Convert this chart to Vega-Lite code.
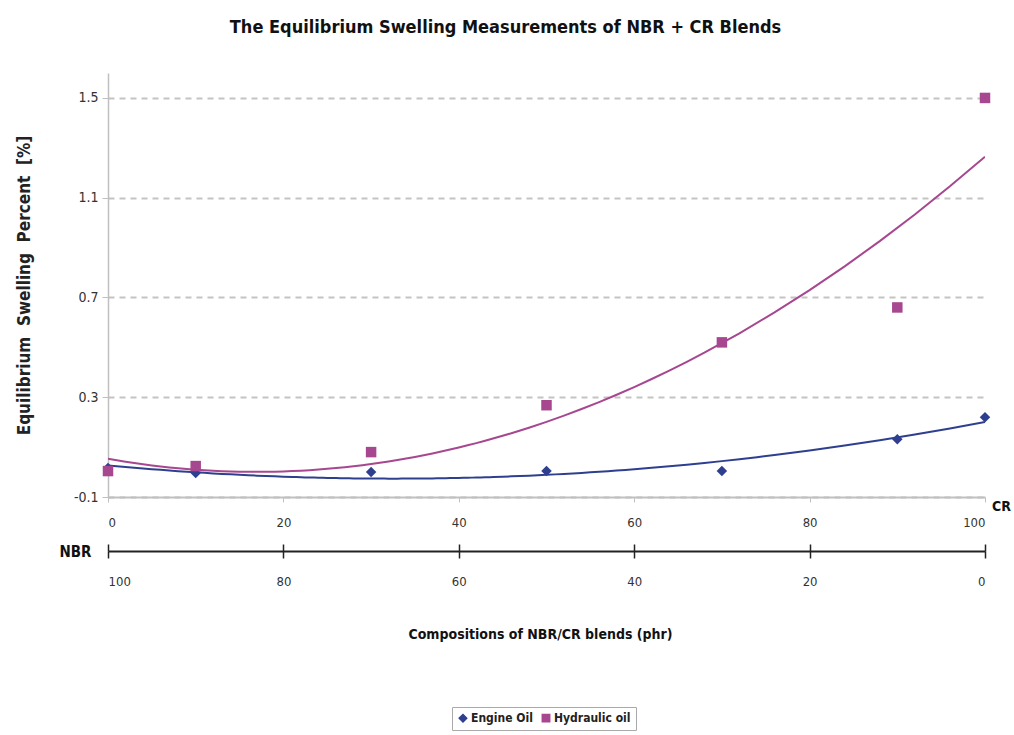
{
  "$schema": "https://vega.github.io/schema/vega-lite/v6.json",
  "width": 877,
  "height": 424,
  "autosize": "none",
  "padding": {"left": 108, "top": 73, "right": 29, "bottom": 238},
  "background": "white",
  "config": {
    "view": {"stroke": null},
    "font": "DejaVu Sans Condensed, Liberation Sans, sans-serif"
  },
  "title": {
    "text": "The Equilibrium Swelling Measurements of NBR + CR Blends",
    "font": "DejaVu Sans Condensed, Liberation Sans, sans-serif",
    "fontSize": 18,
    "fontWeight": "bold",
    "color": "#111111",
    "anchor": "middle",
    "dx": -41,
    "offset": 36
  },
  "datasets": {
    "pts": [
      {"CR": 0, "NBR": 100, "series": "Engine Oil", "value": 0.016},
      {"CR": 10, "NBR": 90, "series": "Engine Oil", "value": -0.004},
      {"CR": 30, "NBR": 70, "series": "Engine Oil", "value": 0.0},
      {"CR": 50, "NBR": 50, "series": "Engine Oil", "value": 0.004},
      {"CR": 70, "NBR": 30, "series": "Engine Oil", "value": 0.004},
      {"CR": 90, "NBR": 10, "series": "Engine Oil", "value": 0.132},
      {"CR": 100, "NBR": 0, "series": "Engine Oil", "value": 0.22},
      {"CR": 0, "NBR": 100, "series": "Hydraulic oil", "value": 0.004},
      {"CR": 10, "NBR": 90, "series": "Hydraulic oil", "value": 0.024},
      {"CR": 30, "NBR": 70, "series": "Hydraulic oil", "value": 0.08},
      {"CR": 50, "NBR": 50, "series": "Hydraulic oil", "value": 0.268},
      {"CR": 70, "NBR": 30, "series": "Hydraulic oil", "value": 0.52},
      {"CR": 90, "NBR": 10, "series": "Hydraulic oil", "value": 0.66},
      {"CR": 100, "NBR": 0, "series": "Hydraulic oil", "value": 1.5}
    ]
  },
  "data": {"name": "pts"},
  "layer": [
    {
      "transform": [
        {"regression": "value", "on": "CR", "groupby": ["series"], "method": "poly", "order": 2, "extent": [0, 100]}
      ],
      "mark": {"type": "line", "strokeWidth": 2, "clip": true},
      "encoding": {
        "x": {"field": "CR", "type": "quantitative", "scale": {"domain": [0, 100]}, "axis": null},
        "y": {"field": "value", "type": "quantitative", "scale": {"domain": [-0.1, 1.6], "nice": false, "zero": false}},
        "color": {"field": "series", "type": "nominal"}
      }
    },
    {
      "mark": {"type": "point", "filled": true, "opacity": 1, "size": 110},
      "encoding": {
        "x": {
          "field": "CR", "type": "quantitative",
          "scale": {"domain": [0, 100], "nice": false},
          "axis": {
            "orient": "bottom",
            "values": [0, 20, 40, 60, 80, 100],
            "domainColor": "#c0c0c0",
            "domainWidth": 2,
            "tickColor": "#c0c0c0",
            "tickSize": 5,
            "labelPadding": 14,
            "labelFontSize": 13,
            "labelColor": "#333333",
            "grid": false,
            "title": "CR",
            "titleFontSize": 14,
            "titleFontWeight": "bold",
            "titleColor": "#111111",
            "titleAngle": 0,
            "titleX": 893,
            "titleY": 9,
            "titleAlign": "center",
            "titleBaseline": "middle"
          }
        },
        "y": {
          "field": "value", "type": "quantitative",
          "scale": {"domain": [-0.1, 1.6], "nice": false, "zero": false},
          "axis": {
            "values": [-0.1, 0.3, 0.7, 1.1, 1.5],
            "format": ".1f",
            "labelExpr": "replace(datum.label, '\u2212', '-')",
            "domainColor": "#c0c0c0",
            "domainWidth": 1.5,
            "tickColor": "#c0c0c0",
            "tickSize": 6,
            "labelFontSize": 14,
            "labelColor": "#333333",
            "labelPadding": 4,
            "grid": true,
            "gridDash": [6, 5],
            "gridColor": "#c4c4c4",
            "gridWidth": 2,
            "title": "Equilibrium\u00a0\u00a0Swelling\u00a0\u00a0Percent\u00a0\u00a0[%]",
            "titleFontSize": 17,
            "titleFontWeight": "bold",
            "titleColor": "#222222",
            "titlePadding": 40
          }
        },
        "color": {
          "field": "series", "type": "nominal",
          "scale": {"domain": ["Engine Oil", "Hydraulic oil"], "range": ["#2f3f8f", "#a6478f"]},
          "legend": {
            "title": null,
            "orient": "none",
            "legendX": 344,
            "legendY": 634,
            "direction": "horizontal",
            "strokeColor": "#aaaaaa",
            "padding": 5,
            "labelFontSize": 12,
            "labelFontWeight": "bold",
            "labelColor": "#222222",
            "symbolSize": 55,
            "columnPadding": 6,
            "labelOffset": 2
          }
        },
        "shape": {
          "field": "series", "type": "nominal",
          "scale": {"domain": ["Engine Oil", "Hydraulic oil"], "range": ["diamond", "square"]},
          "legend": {"title": null}
        }
      }
    },
    {
      "mark": {"type": "point", "opacity": 0},
      "encoding": {
        "x": {
          "field": "NBR", "type": "quantitative",
          "scale": {"domain": [100, 0], "nice": false},
          "axis": {
            "orient": "bottom",
            "offset": 54,
            "values": [100, 80, 60, 40, 20, 0],
            "domainColor": "#222222",
            "domainWidth": 2,
            "tickColor": "#222222",
            "tickWidth": 1.5,
            "tickSize": 7,
            "labelPadding": 17,
            "labelFontSize": 13,
            "labelColor": "#333333",
            "title": "NBR",
            "titleFontSize": 15,
            "titleFontWeight": "bold",
            "titleColor": "#111111",
            "titleAngle": 0,
            "titleX": -33,
            "titleY": 0,
            "titleAlign": "center",
            "titleBaseline": "middle"
          }
        }
      }
    },
    {
      "mark": {"type": "point", "opacity": 0},
      "encoding": {
        "x": {
          "field": "NBR", "type": "quantitative",
          "scale": {"domain": [100, 0], "nice": false},
          "axis": {
            "orient": "bottom",
            "offset": 54,
            "values": [100, 80, 60, 40, 20, 0],
            "domain": false,
            "labels": false,
            "tickColor": "#222222",
            "tickWidth": 1.5,
            "tickSize": -7,
            "title": null
          }
        }
      }
    },
    {
      "mark": {"type": "point", "opacity": 0},
      "encoding": {
        "x": {
          "field": "CR", "type": "quantitative",
          "scale": {"domain": [0, 100], "nice": false},
          "axis": {
            "orient": "bottom",
            "offset": 0,
            "domain": false,
            "labels": false,
            "ticks": false,
            "grid": false,
            "title": "Compositions of NBR/CR blends (phr)",
            "titleFontSize": 14,
            "titleFontWeight": "bold",
            "titleColor": "#111111",
            "titleX": 432,
            "titleY": 137,
            "titleBaseline": "middle"
          }
        }
      }
    }
  ],
  "resolve": {"scale": {"x": "independent"}}
}
